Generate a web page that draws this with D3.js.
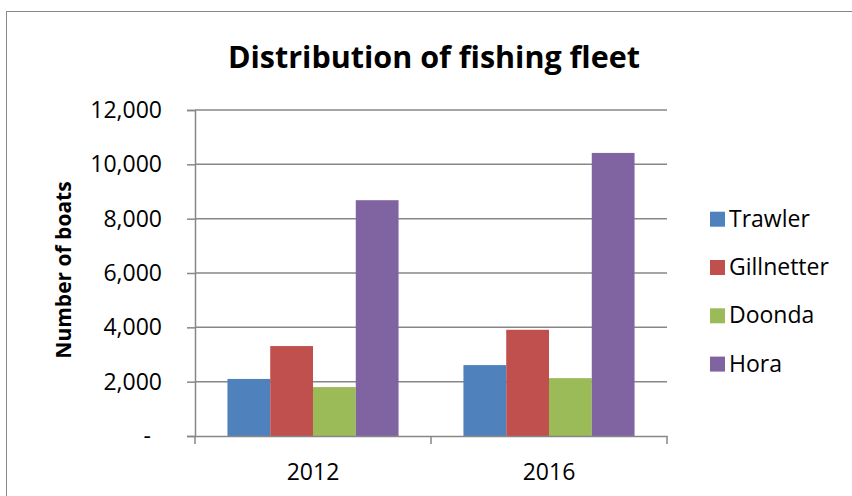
<!DOCTYPE html>
<html>
<head>
<meta charset="utf-8">
<script src="https://cdn.jsdelivr.net/npm/d3@7"></script>
<style>
  body { margin: 0; background: #fff; }
  text { font-family: "Open Sans", sans-serif; fill: #000; }
</style>
</head>
<body>
<div id="chart"></div>
<script>
const years = ["2012", "2016"];
const boatTypes = ["Trawler", "Gillnetter", "Doonda", "Hora"];
const trawler = [2100, 2610];
const gillnetter = [3310, 3910];
const doonda = [1800, 2130];
const hora = [8680, 10420];
const yTicks = [0, 2000, 4000, 6000, 8000, 10000, 12000];
const colors = ["#4F81BD", "#C0504D", "#9BBB59", "#8064A2"];

const series = [trawler, gillnetter, doonda, hora];

const width = 852, height = 496;
const margin = { left: 195, right: 185, top: 110, bottom: 60 };

const svg = d3.select("#chart").append("svg")
    .attr("width", width).attr("height", height);

// outer chart border
svg.append("rect")
    .attr("x", 6.5).attr("y", 11.5)
    .attr("width", width).attr("height", height)
    .attr("fill", "none").attr("stroke", "#888").attr("stroke-width", 1);

svg.append("text")
    .attr("x", 434).attr("y", 68)
    .attr("text-anchor", "middle")
    .style("font-size", "30.5px").style("font-weight", "bold")
    .text("Distribution of fishing fleet");

const x0 = d3.scaleBand().domain(years)
    .range([margin.left, width - margin.right])
    .paddingInner(0.275).paddingOuter(0.1375);
const x1 = d3.scaleBand().domain(boatTypes).range([0, x0.bandwidth()]);
const y = d3.scaleLinear().domain([0, 12000]).range([436, 110]);

// gridlines
svg.append("g").selectAll("line").data(yTicks.slice(1)).join("line")
    .attr("x1", margin.left).attr("x2", width - margin.right)
    .attr("y1", d => y(d)).attr("y2", d => y(d))
    .attr("stroke", "#878787").attr("stroke-width", 1.5);

// bars
boatTypes.forEach((t, i) => {
    svg.append("g").selectAll("rect").data(years).join("rect")
        .attr("x", d => x0(d) + x1(t))
        .attr("width", x1.bandwidth())
        .attr("y", (d, j) => y(series[i][j]))
        .attr("height", (d, j) => y(0) - y(series[i][j]))
        .attr("fill", colors[i]);
});

// y axis
const yAxis = svg.append("g")
    .attr("transform", `translate(${margin.left},0)`)
    .call(d3.axisLeft(y).tickValues(yTicks).tickSize(8).tickPadding(25)
        .tickFormat(d => d === 0 ? "-" : d3.format(",")(d)));
yAxis.select(".domain").attr("stroke", "#878787").attr("stroke-width", 1.5);
yAxis.selectAll(".tick line").attr("stroke", "#878787").attr("stroke-width", 1.5);
yAxis.selectAll(".tick text").style("font-size", "23px").style("font-family", "'Open Sans', sans-serif");
yAxis.selectAll(".tick text").filter(d => d === 0).attr("dx", -11);

// x axis
const xAxis = svg.append("g")
    .attr("transform", `translate(0,${y(0)})`)
    .call(d3.axisBottom(x0).tickSize(0).tickPadding(28));
xAxis.select(".domain").attr("stroke", "#878787").attr("stroke-width", 1.5);
xAxis.selectAll(".tick text").style("font-size", "23px").style("font-family", "'Open Sans', sans-serif");
// category boundary ticks
const bounds = [margin.left, x0.range()[0] + x0.step(), width - margin.right];
xAxis.selectAll(".bound").data(bounds).join("line")
    .attr("x1", d => d).attr("x2", d => d)
    .attr("y1", 0).attr("y2", 8)
    .attr("stroke", "#878787").attr("stroke-width", 1.5);

svg.append("text")
    .attr("transform", "translate(71,270) rotate(-90)")
    .attr("text-anchor", "middle")
    .style("font-size", "21px").style("font-weight", "bold")
    .text("Number of boats");

// legend
const legend = svg.append("g").selectAll("g").data(boatTypes).join("g")
    .attr("transform", (d, i) => `translate(710,${226.7 + i * 48.3})`);
legend.append("rect")
    .attr("x", 0).attr("y", -15).attr("width", 15).attr("height", 15)
    .attr("fill", (d, i) => colors[i]);
legend.append("text")
    .attr("x", 19).attr("y", 0)
    .style("font-size", "23px")
    .text(d => d);
</script>
</body>
</html>
